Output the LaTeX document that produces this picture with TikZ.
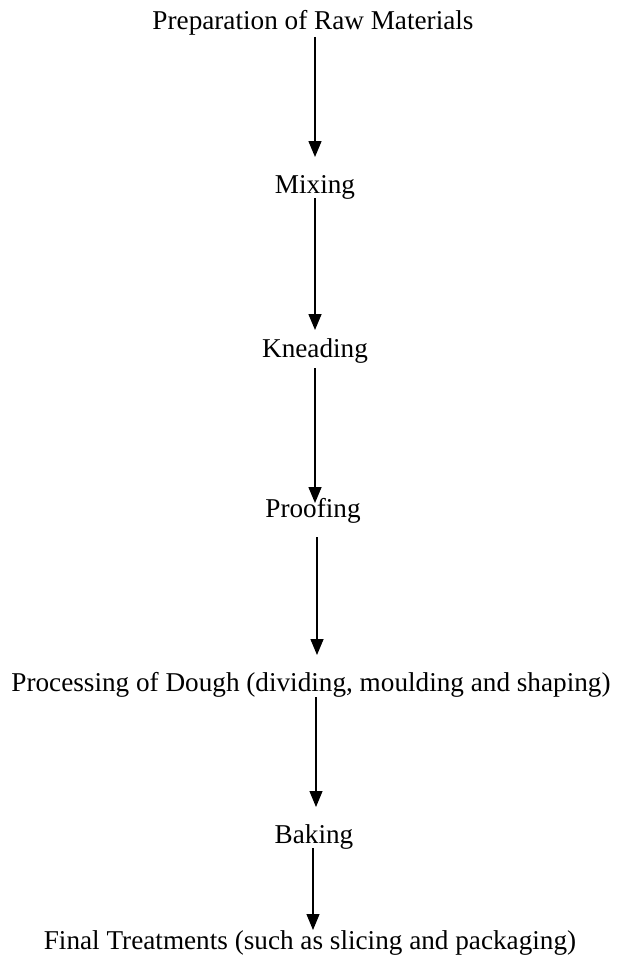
\documentclass[tikz,border=0pt]{standalone}
\usepackage{fontspec}
\setmainfont{Liberation Serif}
\usetikzlibrary{arrows.meta}
\tikzset{
  lbl/.style={anchor=base, inner sep=0pt, font=\fontsize{27.2}{32}\selectfont},
  arr/.style={line width=1.5pt, -{Triangle[length=16pt,width=13pt]}},
  arrthin/.style={line width=1.1pt, -{Triangle[length=16pt,width=13pt]}}
}
\begin{document}
\begin{tikzpicture}[x=1pt,y=-1pt]
\useasboundingbox[fill=white] (0,0) rectangle (620,958);
\node[lbl] (prep) at (313,30) {Preparation of Raw Materials};
\node[lbl] (mix) at (315,193) {Mixing};
\node[lbl] (knead) at (315,357) {Kneading};
\node[lbl] (proof) at (313,517) {Proofing};
\node[lbl] (proc) at (311,691) {Processing of Dough (dividing, moulding and shaping)};
\node[lbl] (bake) at (314,843) {Baking};
\node[lbl] (final) at (310,949) {Final Treatments (such as slicing and packaging)};
\draw[arr] ([xshift=2pt,yshift=-7pt]prep.base) -- ([yshift=36pt]mix.base);
\draw[arr] ([yshift=-5pt]mix.base) -- ([yshift=27pt]knead.base);
\draw[arr] ([yshift=-11pt]knead.base) -- ([xshift=2pt,yshift=14pt]proof.base);
\draw[arr] ([xshift=4pt,yshift=-20pt]proof.base) -- ([xshift=6pt,yshift=36pt]proc.base);
\draw[arrthin] ([xshift=5pt,yshift=-6pt]proc.base) -- ([xshift=2pt,yshift=36pt]bake.base);
\draw[arrthin] ([xshift=-1pt,yshift=-5pt]bake.base) -- ([xshift=3pt,yshift=19pt]final.base);
\end{tikzpicture}
\end{document}
